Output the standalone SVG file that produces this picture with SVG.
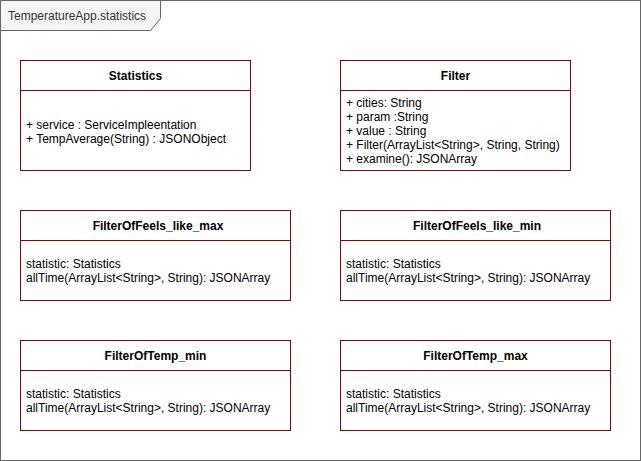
<svg xmlns="http://www.w3.org/2000/svg" width="641" height="461" viewBox="0 0 641 461">
<style>
text{font-family:"Liberation Sans",Arial,sans-serif;font-size:12px;fill:#000}
.t{font-weight:bold;text-anchor:middle}
.box{fill:#fff;stroke:#990000;stroke-width:1}
.sep{stroke:#990000;stroke-width:1}
</style>
<rect width="641" height="461" fill="#fff"/>
<g id="frame">
<rect x="0.5" y="0.5" width="640" height="460" fill="none" stroke="#666"/>
<path d="M0.5 0.5H160.5V18.5L150.5 30.5H0.5Z" fill="#f5f5f5" stroke="#666"/>
<text x="8" y="19.5" style="fill:#333">TemperatureApp.statistics</text>
</g>
<g id="Statistics">
<rect class="box" x="20.5" y="60.5" width="230" height="110"/>
<line class="sep" x1="20.5" y1="90.5" x2="250.5" y2="90.5"/>
<text class="t" x="135.5" y="79.5">Statistics</text>
<text x="26" y="128.5">+ service : ServiceImpleentation</text>
<text x="26" y="142.5">+ TempAverage(String) : JSONObject</text>
</g>
<g id="Filter">
<rect class="box" x="340.5" y="60.5" width="230" height="110"/>
<line class="sep" x1="340.5" y1="90.5" x2="570.5" y2="90.5"/>
<text class="t" x="455.5" y="79.5">Filter</text>
<text x="346" y="106.5">+ cities: String</text>
<text x="346" y="120.5">+ param :String</text>
<text x="346" y="134.5">+ value : String</text>
<text x="346" y="148.5">+ Filter(ArrayList&lt;String&gt;, String, String)</text>
<text x="346" y="162.5">+ examine(): JSONArray</text>
</g>
<g id="FilterOfFeels_like_max">
<rect class="box" x="20.5" y="210.5" width="270" height="90"/>
<line class="sep" x1="20.5" y1="240.5" x2="290.5" y2="240.5"/>
<text class="t" x="158" y="229.5">FilterOfFeels_like_max</text>
<text x="26" y="267.5">statistic: Statistics</text>
<text x="26" y="281.5">allTime(ArrayList&lt;String&gt;, String): JSONArray</text>
</g>
<g id="FilterOfFeels_like_min">
<rect class="box" x="340.5" y="210.5" width="270" height="90"/>
<line class="sep" x1="340.5" y1="240.5" x2="610.5" y2="240.5"/>
<text class="t" x="477" y="229.5">FilterOfFeels_like_min</text>
<text x="346" y="267.5">statistic: Statistics</text>
<text x="346" y="281.5">allTime(ArrayList&lt;String&gt;, String): JSONArray</text>
</g>
<g id="FilterOfTemp_min">
<rect class="box" x="20.5" y="340.5" width="270" height="90"/>
<line class="sep" x1="20.5" y1="370.5" x2="290.5" y2="370.5"/>
<text class="t" x="155.5" y="359.5">FilterOfTemp_min</text>
<text x="26" y="397.5">statistic: Statistics</text>
<text x="26" y="411.5">allTime(ArrayList&lt;String&gt;, String): JSONArray</text>
</g>
<g id="FilterOfTemp_max">
<rect class="box" x="340.5" y="340.5" width="270" height="90"/>
<line class="sep" x1="340.5" y1="370.5" x2="610.5" y2="370.5"/>
<text class="t" x="475.5" y="359.5">FilterOfTemp_max</text>
<text x="346" y="397.5">statistic: Statistics</text>
<text x="346" y="411.5">allTime(ArrayList&lt;String&gt;, String): JSONArray</text>
</g>
<g id="connectors"/>
</svg>
